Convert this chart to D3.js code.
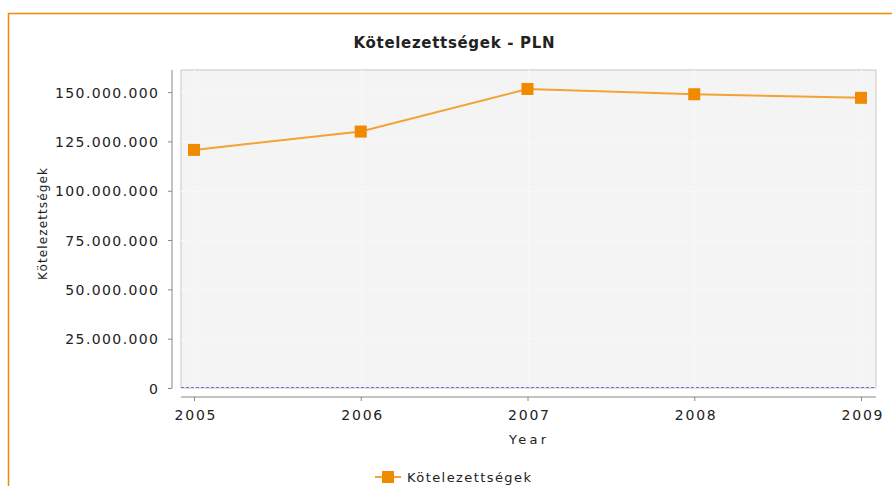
<!DOCTYPE html>
<html>
<head>
  <meta charset="utf-8">
  <title>Kötelezettségek - PLN</title>
  <script src="https://d3js.org/d3.v7.min.js"></script>
  <style>
    body { margin: 0; background: #fff; }
    text { font-family: "DejaVu Sans", sans-serif; fill: #222; }
  </style>
</head>
<body>
  <script>
  // data
  var years = [2005, 2006, 2007, 2008, 2009];
  var values = [120700000, 130000000, 151600000, 148900000, 147100000];
  var yTicks = [0, 25000000, 50000000, 75000000, 100000000, 125000000, 150000000];
  var seriesName = "Kötelezettségek";
  var title = "Kötelezettségek - PLN";

  var width = 892, height = 486;
  var plot = { left: 181, top: 70, right: 876, bottom: 388 };
  var orange = "#f08a00";

  var svg = d3.select("body").append("svg").attr("width", width).attr("height", height);

  // letter spacing so that a sample text gets the wanted width
  function spacingFor(node, target) {
    node.style.letterSpacing = "0px";
    var w0 = node.getComputedTextLength();
    var n = node.textContent.length;
    return Math.max(0, (target - w0) / (n - 1));
  }

  // outer orange frame
  svg.append("rect").attr("x", 8.5).attr("y", 13.5).attr("width", 900).attr("height", 500)
    .attr("fill", "none").attr("stroke", orange).attr("stroke-width", 1.5);

  var x = d3.scaleLinear().domain([2005, 2009]).range([194, 861]);
  var y = d3.scaleLinear().domain([0, 161200000]).range([plot.bottom, plot.top]);

  // plot background
  svg.append("rect").attr("x", plot.left).attr("y", plot.top)
    .attr("width", plot.right - plot.left).attr("height", plot.bottom - plot.top)
    .attr("fill", "#f4f4f4").attr("stroke", "#c8c8c8").attr("stroke-width", 1);

  // grid lines
  svg.append("g").selectAll("line").data(yTicks.slice(1)).enter().append("line")
    .attr("x1", plot.left).attr("x2", plot.right)
    .attr("y1", function(d) { return Math.round(y(d)) + 0.5; })
    .attr("y2", function(d) { return Math.round(y(d)) + 0.5; })
    .attr("stroke", "#fbfbfb").attr("stroke-dasharray", "2,2");
  svg.append("g").selectAll("line").data(years).enter().append("line")
    .attr("y1", plot.top).attr("y2", plot.bottom)
    .attr("x1", function(d) { return Math.round(x(d)) + 0.5; })
    .attr("x2", function(d) { return Math.round(x(d)) + 0.5; })
    .attr("stroke", "#fbfbfb").attr("stroke-dasharray", "2,2");

  // zero line
  svg.append("line").attr("x1", plot.left).attr("x2", plot.right)
    .attr("y1", y(0) - 0.5).attr("y2", y(0) - 0.5)
    .attr("stroke", "#7070e0").attr("stroke-dasharray", "3,2");

  // axes
  var fmt = function(d) { return d3.format(",")(d).replace(/,/g, "."); };
  var yAxis = svg.append("g").attr("transform", "translate(172,0)")
    .call(d3.axisLeft(y).tickValues(yTicks).tickFormat(fmt).tickSize(4).tickPadding(10));
  yAxis.select(".domain").attr("d", "M0," + plot.top + "V" + plot.bottom).attr("stroke", "#888");
  yAxis.selectAll(".tick line").attr("stroke", "#888");
  var yText = yAxis.selectAll("text").style("font-size", "14px").attr("fill", "#222").attr("dy", "0.36em");
  var ySp = spacingFor(yText.nodes()[yText.size() - 1], 103);
  yText.style("letter-spacing", ySp + "px").attr("dx", ySp);

  var xAxis = svg.append("g").attr("transform", "translate(0,397)")
    .call(d3.axisBottom(x).tickValues(years).tickFormat(d3.format("d")).tickSize(4));
  xAxis.select(".domain").attr("d", "M" + plot.left + ",0H" + plot.right).attr("stroke", "#888");
  xAxis.selectAll(".tick line").attr("stroke", "#888");
  var xText = xAxis.selectAll("text").style("font-size", "14px").attr("fill", "#222")
    .attr("y", 23).attr("dy", 0);
  var xSp = spacingFor(xText.node(), 41);
  xText.style("letter-spacing", xSp + "px").attr("dx", xSp / 2 + 0.5);

  // titles
  var t = svg.append("text").attr("x", 454).attr("y", 47.5).attr("text-anchor", "middle")
    .style("font-size", "15px").style("font-weight", "bold").text(title);
  var tSp = spacingFor(t.node(), 201);
  t.style("letter-spacing", tSp + "px").attr("dx", tSp / 2);

  var xl = svg.append("text").attr("x", 527.5).attr("y", 444).attr("text-anchor", "middle")
    .style("font-size", "13px").text("Year");
  var xlSp = spacingFor(xl.node(), 37);
  xl.style("letter-spacing", xlSp + "px").attr("dx", xlSp / 2);

  var yl = svg.append("text").attr("transform", "translate(47,224) rotate(-90)").attr("text-anchor", "middle")
    .style("font-size", "12px").text(seriesName);
  var ylSp = spacingFor(yl.node(), 112);
  yl.style("letter-spacing", ylSp + "px").attr("dx", ylSp / 2);

  // series line and markers
  var line = d3.line().x(function(d, i) { return x(years[i]); }).y(function(d) { return y(d); });
  svg.append("path").datum(values).attr("d", line)
    .attr("fill", "none").attr("stroke", "#f4a236").attr("stroke-width", 2);
  svg.append("g").selectAll("rect").data(values).enter().append("rect")
    .attr("x", function(d, i) { return x(years[i]) - 6; })
    .attr("y", function(d) { return y(d) - 6; })
    .attr("width", 12).attr("height", 12).attr("fill", orange);

  // legend
  var lg = svg.append("g").attr("transform", "translate(388,477)");
  lg.append("line").attr("x1", -13).attr("x2", 13).attr("stroke", "#f4a236").attr("stroke-width", 2);
  lg.append("rect").attr("x", -6).attr("y", -6).attr("width", 12).attr("height", 12).attr("fill", orange);
  var lt = lg.append("text").attr("x", 19).attr("dy", "0.36em").style("font-size", "13px").text(seriesName);
  var ltSp = spacingFor(lt.node(), 124);
  lt.style("letter-spacing", ltSp + "px");
  </script>
</body>
</html>
